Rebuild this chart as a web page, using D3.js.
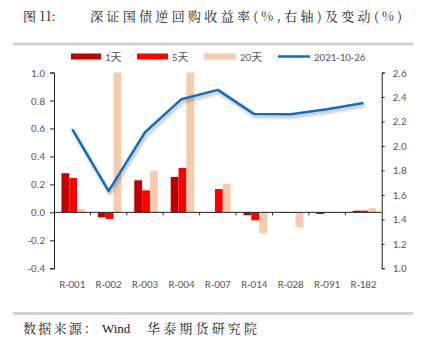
<!DOCTYPE html>
<html><head><meta charset="utf-8">
<script src="https://cdn.jsdelivr.net/npm/d3@7"></script>
<style>body{margin:0;background:#fff}svg{display:block}</style>
</head><body>
<svg id="c" width="438" height="347"></svg>
<script>
const categories = ["R-001","R-002","R-003","R-004","R-007","R-014","R-028","R-091","R-182"];
const chg1d  = [0.28, -0.036, 0.229, 0.253, -0.003, -0.02, -0.003, -0.012, 0.012];
const chg5d  = [0.246, -0.047, 0.157, 0.317, 0.167, -0.057, -0.003, -0.003, 0.012];
const chg20d = [0.024, 1.0, 0.298, 1.0, 0.203, -0.15, -0.107, 0.0, 0.03];
const rate   = [2.137, 1.63, 2.112, 2.382, 2.458, 2.26, 2.258, 2.30, 2.35];
const leftTicks  = [-0.4,-0.2,0.0,0.2,0.4,0.6,0.8,1.0];
const rightTicks = [1.0,1.2,1.4,1.6,1.8,2.0,2.2,2.4,2.6];
const seriesNames = ["1天","5天","20天","2021-10-26"];
const colors = ["#C00000","#FF0000","#F8CBAD","#0F6FBF"];

const svg = d3.select("#c");
const L = 54, R = 381.7, T = 72.5, B = 268.3;
const x = d3.scaleBand().domain(categories).range([L, R]);
const yL = d3.scaleLinear().domain([-0.4, 1.0]).range([B, T]).clamp(true);
const yR = d3.scaleLinear().domain([1.0, 2.6]).range([B, T]);
const sub = d3.scaleBand().domain([0,1,2]).range([0, x.bandwidth()*0.645]);
const gOff = (x.bandwidth() - x.bandwidth()*0.645)/2 + 1;

const defs = svg.append("defs");
const f = defs.append("filter").attr("id","sh").attr("x","-10%").attr("y","-10%").attr("width","130%").attr("height","140%");
f.append("feDropShadow").attr("dx",1.5).attr("dy",2.5).attr("stdDeviation",1.5).attr("flood-color","#000").attr("flood-opacity",0.3);

const serif = "'Noto Serif CJK SC','Noto Sans CJK SC',serif";
// title
svg.append("text").attr("x",23).attr("y",21).attr("font-family",serif).attr("font-size",13).attr("fill","#222").text("图 11:");
svg.append("text").attr("x",90).attr("y",21).attr("font-family",serif).attr("font-size",13).attr("fill","#222").attr("textLength",312).text("深证国债逆回购收益率(%,右轴)及变动(%)");

// separator lines
svg.append("rect").attr("x",13).attr("y",42.5).attr("width",400).attr("height",3).attr("fill","#d3d3d3");
svg.append("rect").attr("x",13).attr("y",312).attr("width",400).attr("height",3).attr("fill","#d3d3d3");

// footer
svg.append("text").attr("x",23).attr("y",333).attr("font-family",serif).attr("font-size",13).attr("fill","#222").attr("textLength",74).text("数据来源：");
svg.append("text").attr("x",102).attr("y",333).attr("font-family","'Liberation Serif','DejaVu Serif',serif").attr("font-size",13).attr("fill","#222").text("Wind");
svg.append("text").attr("x",147).attr("y",333).attr("font-family",serif).attr("font-size",13).attr("fill","#222").attr("textLength",110).text("华泰期货研究院");

// bars
const series = [chg1d, chg5d, chg20d];
series.forEach((vals, si) => {
  svg.append("g").selectAll("rect").data(vals).join("rect")
    .attr("x", (d,i) => x(categories[i]) + gOff + sub(si))
    .attr("width", sub.bandwidth())
    .attr("y", d => Math.min(yL(d), yL(0)))
    .attr("height", d => Math.abs(yL(d) - yL(0)))
    .attr("fill", colors[si]);
});

// axes
const axisFont = g => g.selectAll("text").attr("font-family","Calibri,'Liberation Sans',Arial,sans-serif").attr("font-size",11).attr("fill","#595959");
const gl = svg.append("g").attr("transform",`translate(${L},0)`)
  .call(d3.axisLeft(yL).tickValues(leftTicks).tickFormat(d3.format(".1f")).tickSizeOuter(0).tickSize(4).tickPadding(5));
gl.call(axisFont); gl.select(".domain").attr("stroke","#222"); gl.selectAll("line").attr("stroke","#222");
const gr = svg.append("g").attr("transform",`translate(${R},0)`)
  .call(d3.axisRight(yR).tickValues(rightTicks).tickFormat(d3.format(".1f")).tickSizeOuter(0).tickSize(3).tickPadding(8));
gr.call(axisFont); gr.select(".domain").attr("stroke","#222"); gr.selectAll("line").attr("stroke","#222");
gl.selectAll("text").text(d => d3.format(".1f")(d).replace("−","-"));

// x axis at zero
const gx = svg.append("g").attr("transform",`translate(0,${yL(0)})`);
gx.append("line").attr("x1",L).attr("x2",R).attr("stroke","#222");
gx.selectAll("line.t").data(categories.slice(1)).join("line").attr("class","t")
  .attr("x1",d=>x(d)).attr("x2",d=>x(d)).attr("y1",0).attr("y2",3).attr("stroke","#222");
svg.append("g").selectAll("text").data(categories).join("text")
  .attr("x", d => x(d) + x.bandwidth()/2).attr("y", 288)
  .attr("text-anchor","middle").attr("font-family","Calibri,'Liberation Sans',Arial,sans-serif").attr("font-size",11).attr("fill","#595959")
  .text(d=>d);

// line
const line = d3.line().x((d,i)=>x(categories[i])+x.bandwidth()/2).y(d=>yR(d));
svg.append("path").datum(rate).attr("d",line).attr("fill","none").attr("stroke",colors[3]).attr("stroke-width",2.5).attr("stroke-linejoin","round").attr("filter","url(#sh)");

// legend
const lg = svg.append("g");
const legItems = [
  {x:71, w:30, name:seriesNames[0], c:colors[0], type:"bar"},
  {x:137, w:31, name:seriesNames[1], c:colors[1], type:"bar"},
  {x:204, w:32, name:seriesNames[2], c:colors[2], type:"bar"},
  {x:278, w:32, name:seriesNames[3], c:colors[3], type:"line"}
];
legItems.forEach(it => {
  if (it.type==="bar") lg.append("rect").attr("x",it.x).attr("y",53.5).attr("width",it.w).attr("height",6).attr("fill",it.c);
  else lg.append("line").attr("x1",it.x).attr("x2",it.x+it.w).attr("y1",56.5).attr("y2",56.5).attr("stroke",it.c).attr("stroke-width",2.5);
  lg.append("text").attr("x",it.x+it.w+4).attr("y",60.5).attr("font-family","Calibri,'Liberation Sans','Noto Sans CJK SC',sans-serif").attr("font-size",11).attr("fill","#595959").text(it.name);
});
</script>
</body></html>
